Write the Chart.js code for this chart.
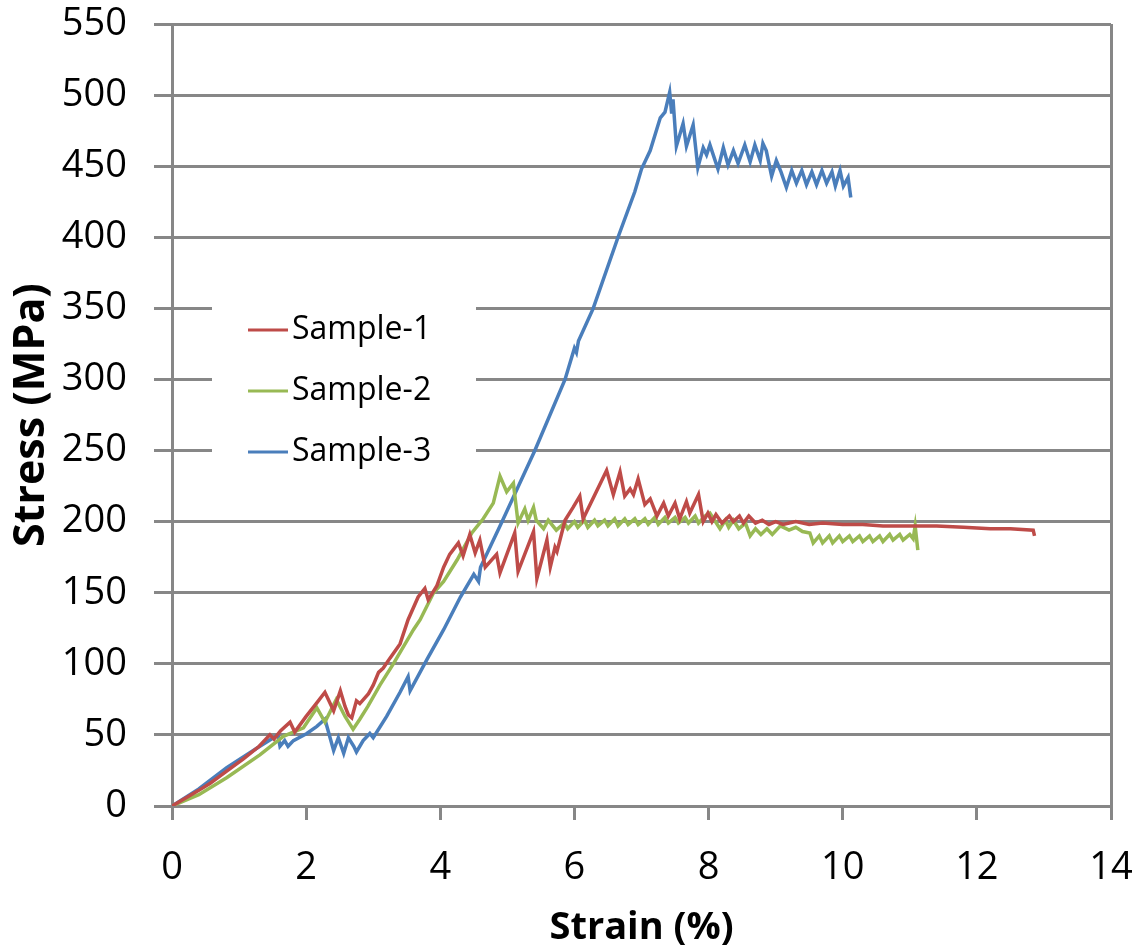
<!DOCTYPE html>
<html>
<head>
<meta charset="utf-8">
<title>Stress-Strain</title>
<script src="https://cdn.jsdelivr.net/npm/chart.js@4.4.1/dist/chart.umd.min.js"></script>
<style>
  html, body { margin: 0; padding: 0; background: #ffffff; }
  #wrap { width: 1141px; height: 951px; position: relative; }
</style>
</head>
<body>
<div id="wrap"><canvas id="c" width="1141" height="951"></canvas></div>
<script>
// ---------------- DATA ----------------
const seriesNames = ['Sample-1', 'Sample-2', 'Sample-3'];

const xTickValues = [0, 2, 4, 6, 8, 10, 12, 14];
const yTickValues = [0, 50, 100, 150, 200, 250, 300, 350, 400, 450, 500, 550];

// Sample-1 (red)
const s1Strain = [0, 0.4, 0.57, 0.8, 1.06, 1.3, 1.46, 1.52, 1.62, 1.76, 1.83, 2.0, 2.15, 2.28, 2.41, 2.51, 2.58, 2.63, 2.68, 2.75, 2.8, 2.93, 3.0, 3.08, 3.15, 3.25, 3.4, 3.52, 3.67, 3.77, 3.82, 3.95, 4.05, 4.14, 4.27, 4.34, 4.44, 4.52, 4.59, 4.67, 4.84, 4.89, 5.11, 5.16, 5.39, 5.44, 5.59, 5.64, 5.71, 5.74, 5.86, 5.98, 6.08, 6.13, 6.48, 6.58, 6.68, 6.75, 6.83, 6.88, 6.95, 7.05, 7.13, 7.23, 7.33, 7.40, 7.50, 7.57, 7.67, 7.72, 7.85, 7.92, 7.99, 8.05, 8.11, 8.2, 8.31, 8.37, 8.46, 8.52, 8.6, 8.7, 8.8, 8.9, 9.0, 9.11, 9.3, 9.5, 9.7, 10.0, 10.3, 10.6, 11.0, 11.4, 11.8, 12.2, 12.5, 12.84, 12.86];
const s1Stress = [0, 11, 16, 24, 33, 42, 50, 47, 53, 59, 52, 63, 72, 80, 67, 81, 70, 64, 62, 74, 72, 79, 85, 94, 97, 104, 114, 131, 147, 153, 145, 155, 168, 177, 185, 176, 191, 178, 187, 168, 177, 164, 192, 165, 193, 160, 187, 168, 182, 179, 201, 210, 218, 202, 236, 219, 235, 218, 223, 219, 230, 212, 216, 204, 213, 204, 213, 202, 214, 206, 219, 200, 206, 200, 205, 199, 204, 200, 204, 199, 204, 199, 201, 198, 200, 198, 200, 198, 199, 198, 198, 197, 197, 197, 196, 195, 195, 194, 190];

// Sample-2 (green)
const s2Strain = [0, 0.4, 0.82, 1.31, 1.66, 1.96, 2.16, 2.28, 2.45, 2.58, 2.7, 2.8, 2.92, 3.1, 3.3, 3.6, 3.7, 3.9, 4.05, 4.25, 4.47, 4.64, 4.79, 4.89, 4.99, 5.09, 5.16, 5.26, 5.31, 5.39, 5.43, 5.54, 5.61, 5.73, 5.85, 5.9, 6.0, 6.05, 6.15, 6.2, 6.3, 6.35, 6.45, 6.5, 6.6, 6.65, 6.75, 6.8, 6.9, 6.95, 7.05, 7.1, 7.2, 7.25, 7.35, 7.4, 7.5, 7.55, 7.65, 7.7, 7.8, 7.85, 7.95, 8.02, 8.17, 8.25, 8.3, 8.37, 8.45, 8.55, 8.62, 8.7, 8.78, 8.87, 8.95, 9.07, 9.2, 9.3, 9.4, 9.51, 9.56, 9.65, 9.7, 9.8, 9.85, 9.95, 10.0, 10.1, 10.15, 10.25, 10.3, 10.4, 10.45, 10.55, 10.6, 10.7, 10.75, 10.85, 10.9, 11.0, 11.05, 11.08, 11.12];
const s2Stress = [0, 8, 20, 36, 49, 55, 69, 59, 75, 63, 54, 61, 70, 85, 100, 124, 131, 150, 158, 173, 192, 202, 213, 232, 221, 227, 199, 209, 201, 210, 201, 195, 201, 194, 199, 195, 200, 196, 201, 196, 201, 197, 201, 197, 202, 197, 202, 198, 202, 198, 202, 198, 203, 198, 203, 199, 203, 199, 203, 199, 204, 199, 204, 206, 195, 201, 196, 201, 195, 199, 190, 195, 191, 195, 191, 197, 194, 196, 193, 192, 185, 190, 185, 190, 185, 190, 186, 190, 186, 190, 186, 190, 186, 190, 186, 191, 187, 191, 187, 191, 188, 197, 180];

// Sample-3 (blue)
const s3Strain = [0, 0.4, 0.815, 1.31, 1.58, 1.61, 1.68, 1.73, 1.81, 2.01, 2.16, 2.28, 2.41, 2.48, 2.56, 2.63, 2.71, 2.75, 2.85, 2.95, 3.0, 3.2, 3.4, 3.52, 3.55, 3.8, 4.05, 4.3, 4.5, 4.57, 4.6, 4.92, 5.41, 5.86, 6.0, 6.03, 6.06, 6.28, 6.65, 6.9, 7.0, 7.13, 7.28, 7.35, 7.42, 7.45, 7.47, 7.52, 7.62, 7.67, 7.77, 7.84, 7.92, 7.97, 8.02, 8.14, 8.22, 8.29, 8.37, 8.44, 8.54, 8.62, 8.69, 8.77, 8.81, 8.86, 8.94, 9.01, 9.08, 9.16, 9.24, 9.31, 9.39, 9.46, 9.54, 9.61, 9.69, 9.76, 9.84, 9.89, 9.96, 10.01, 10.08, 10.12];
const s3Stress = [0, 12, 27, 42, 50, 42, 46, 42, 46, 51, 56, 61, 39, 48, 37, 48, 42, 38, 46, 51, 48, 63, 80, 91, 81, 103, 124, 147, 163, 158, 168, 200, 250, 300, 322, 319, 327, 350, 400, 432, 448, 461, 484, 488, 502, 487, 497, 464, 480, 464, 479, 449, 463, 458, 465, 448, 463, 451, 461, 452, 465, 453, 465, 454, 466, 461, 443, 454, 446, 435, 447, 438, 447, 437, 446, 437, 447, 438, 446, 436, 447, 436, 442, 428];

const seriesColors = ['#BE4B48', '#98B954', '#4A7EBB'];

// ---------------- BUILD ----------------
function pairs(xs, ys) { return xs.map((x, i) => ({ x: x, y: ys[i] })); }
const seriesData = [pairs(s1Strain, s1Stress), pairs(s2Strain, s2Stress), pairs(s3Strain, s3Stress)];

const GRID = '#878787';
const FONT = '"Open Sans", "Liberation Sans", sans-serif';

const insideLegend = {
  id: 'insideLegend',
  beforeDatasetsDraw(chart) {
    const ctx = chart.ctx;
    ctx.save();
    ctx.fillStyle = '#ffffff';
    ctx.fillRect(212, 268, 264, 222);
    ctx.font = '32px ' + FONT;
    ctx.textBaseline = 'middle';
    ctx.textAlign = 'left';
    chart.data.datasets.forEach((ds, i) => {
      const y = 330 + i * 61;
      ctx.strokeStyle = ds.borderColor;
      ctx.lineWidth = 3;
      ctx.beginPath();
      ctx.moveTo(248, y);
      ctx.lineTo(288, y);
      ctx.stroke();
      ctx.fillStyle = '#000000';
      ctx.fillText(ds.label, 292, y);
    });
    ctx.restore();
  }
};

new Chart(document.getElementById('c'), {
  type: 'line',
  data: {
    datasets: seriesNames.map((name, i) => ({
      label: name,
      data: seriesData[i],
      borderColor: seriesColors[i],
      backgroundColor: seriesColors[i],
      borderWidth: 3.5,
      pointRadius: 0,
      tension: 0,
      fill: false
    }))
  },
  options: {
    responsive: false,
    animation: false,
    layout: { padding: { top: 24, right: 30, bottom: 0, left: 0 } },
    plugins: { legend: { display: false }, tooltip: { enabled: false } },
    scales: {
      x: {
        type: 'linear',
        min: xTickValues[0],
        max: xTickValues[xTickValues.length - 1],
        afterBuildTicks: (s) => { s.ticks = xTickValues.map(v => ({ value: v })); },
        afterFit: (s) => { s.height = 145; s.paddingLeft = 0; s.paddingRight = 0; },
        ticks: { color: '#000', font: { family: FONT, size: 38 }, padding: 25, maxRotation: 0 },
        grid: {
          drawOnChartArea: true,
          color: (c) => (c.tick && c.tick.value === 14) ? GRID : 'rgba(0,0,0,0)',
          tickColor: GRID,
          lineWidth: 3,
          tickLength: 14
        },
        border: { display: true, color: GRID, width: 3 },
        title: { display: true, text: 'Strain (%)', color: '#000', font: { family: FONT, size: 38, weight: 'bold' }, padding: { top: 0, bottom: 0 } }
      },
      y: {
        type: 'linear',
        min: yTickValues[0],
        max: yTickValues[yTickValues.length - 1],
        afterBuildTicks: (s) => { s.ticks = yTickValues.map(v => ({ value: v })); },
        afterFit: (s) => { s.width = 172; s.paddingTop = 0; s.paddingBottom = 0; },
        ticks: { color: '#000', font: { family: FONT, size: 38 }, padding: 27 },
        grid: { color: GRID, lineWidth: 3, tickLength: 18, tickColor: GRID },
        border: { display: true, color: GRID, width: 3 },
        title: { display: true, text: 'Stress (MPa)', color: '#000', font: { family: FONT, size: 43, weight: 'bold' }, padding: { top: 6, bottom: 0 } }
      }
    }
  },
  plugins: [insideLegend]
});
</script>
</body>
</html>
